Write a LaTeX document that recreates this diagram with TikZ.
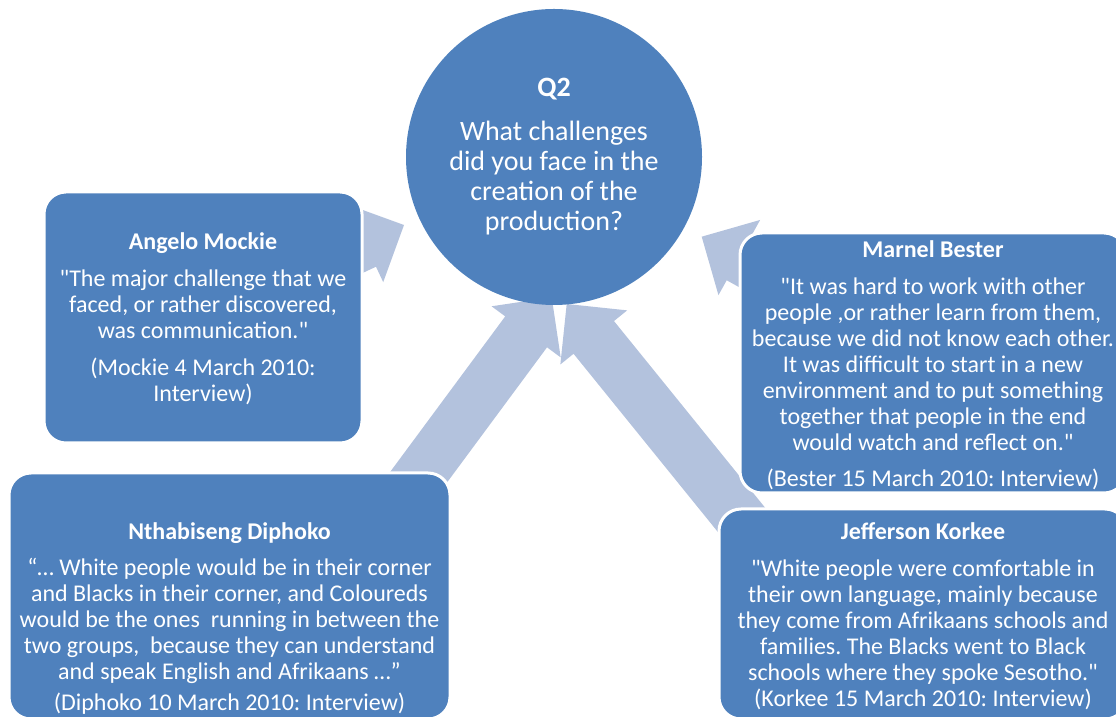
\documentclass[tikz,border=0pt]{standalone}
\usepackage{fontspec}
\setmainfont{Carlito}[Ligatures=TeXOff]
\frenchspacing
\usetikzlibrary{calc}
\definecolor{boxblue}{RGB}{79,129,189}
\definecolor{arrowblue}{RGB}{179,194,221}
\newcommand\BlockArrow[3]{% tip, direction, shaft length
  \fill[arrowblue,shift={(#1)},rotate=#2]
    (0,0) -- (-\headlen,\headwid) -- (-\headlen,\shaftwid) -- (-#3,\shaftwid)
    -- (-#3,-\shaftwid) -- (-\headlen,-\shaftwid) -- (-\headlen,-\headwid) -- cycle;
}
\tikzset{
  personbox/.style={draw=white,line width=3pt,fill=boxblue,rounded corners=22pt,inner sep=0pt},
  quote/.style={text=white,align=center,font=\fontsize{24}{26}\selectfont},
  question/.style={circle,fill=boxblue,text=white,align=center,minimum size=296pt,
    font=\fontsize{28}{30}\selectfont},
}

\begin{document}
\begin{tikzpicture}[x=1pt,y=1pt] % Q2 interviews

\def\headlen{43} % arrow head length
\def\headwid{43} % arrow head half width
\def\shaftwid{26} % arrow shaft half width
\useasboundingbox (0,0) rectangle (1116,717);
\clip (0,0) rectangle (1116,717);

% arrows towards the question
\coordinate (tipA) at (404,492);
\coordinate (tipB) at (701.7,480.3);
\coordinate (tipC) at (551.7,419.7);
\coordinate (tipD) at (566.7,413);
\BlockArrow{tipA}{25}{100}
\BlockArrow{tipB}{151}{100}
\BlockArrow{tipC}{53.5}{260}
\BlockArrow{tipD}{129}{300}

% question
\node[question] (q2) at (554,560)
  {\textbf{Q2}\\[14pt] What challenges\\did you face in the\\creation of the\\production?};

% boxes
\node[personbox,minimum width=318pt,minimum height=251pt] (mockie) at (203,399.5) {};
\node[personbox,minimum width=386pt,minimum height=260pt] (bester) at (933,354) {};
\node[personbox,minimum width=441pt,minimum height=246pt] (diphoko) at (229.5,121) {};
\node[personbox,minimum width=408pt,minimum height=210pt] (korkee) at (923,103) {};

% quotes
\node[quote] (mockietxt) at ([yshift=-1pt]mockie.center)
  {\textbf{Angelo Mockie}\\[11pt]
   "The major challenge that we\\faced, or rather discovered,\\was communication."\\[11pt]
   (Mockie 4 March 2010:\\Interview)};
\node[quote] (bestertxt) at ([yshift=-2pt]bester.center)
  {\textbf{Marnel Bester}\\[11pt]
   "It was hard to work with other\\people ,or rather learn from them,\\
   because we did not know each other.\\It was difficult to start in a new\\
   environment and to put something\\together that people in the end\\
   would watch and reflect on."\\[10pt]
   (Bester 15 March 2010: Interview)};
\node[quote] (diphokotxt) at ([yshift=-23pt]diphoko.center)
  {\textbf{Nthabiseng Diphoko}\\[10pt]
   “… White people would be in their corner\\and Blacks in their corner, and Coloureds\\
   would be the ones~ running in between the\\two groups,~ because they can understand\\
   and speak English and Afrikaans …”\\[5pt]
   (Diphoko 10 March 2010: Interview)};
\node[quote] (korkeetxt) at ([yshift=-2pt]korkee.center)
  {\textbf{Jefferson Korkee}\\[11pt]
   "White people were comfortable in\\their own language, mainly because\\
   they come from Afrikaans schools and\\families. The Blacks went to Black\\
   schools where they spoke Sesotho."\\
   (Korkee 15 March 2010: Interview)};
\end{tikzpicture}
\end{document}
